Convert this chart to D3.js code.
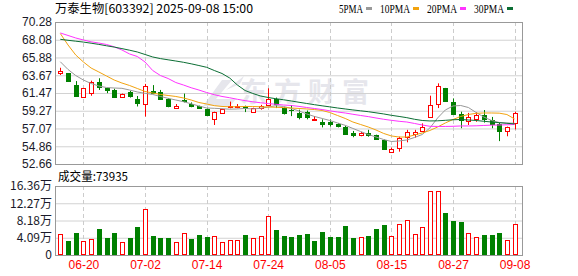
<!DOCTYPE html>
<html>
<head>
<meta charset="utf-8">
<script src="https://cdn.jsdelivr.net/npm/d3@7"></script>
<style>
  body { margin: 0; background: #fff; }
  svg { display: block; }
</style>
</head>
<body>
<div id="chart"></div>
<script>

// trading days shown (MM-DD)
var dates = ["06-17","06-18","06-19","06-20","06-23","06-24","06-25","06-26","06-27","06-30",
             "07-01","07-02","07-03","07-04","07-07","07-08","07-09","07-10","07-11","07-14",
             "07-15","07-16","07-17","07-18","07-21","07-22","07-23","07-24","07-25","07-28",
             "07-29","07-30","07-31","08-01","08-04","08-05","08-06","08-07","08-08","08-11",
             "08-12","08-13","08-14","08-15","08-18","08-19","08-20","08-21","08-22","08-25",
             "08-26","08-27","08-28","08-29","09-01","09-02","09-03","09-04","09-05","09-08"];

var openP  = [63.92,63.92,62.45,61.00,61.45,62.80,62.05,61.85,60.95,61.55,
              60.70,60.15,61.75,61.55,60.75,59.65,60.55,60.05,59.85,59.50,
              58.25,58.95,59.70,59.80,59.85,59.15,59.60,60.00,60.70,59.55,
              59.40,59.05,59.10,58.15,57.85,57.90,57.60,57.30,56.45,56.20,
              56.45,56.25,55.65,54.20,54.70,55.95,56.40,56.75,58.55,60.10,
              62.05,60.40,58.85,58.00,58.30,58.70,58.10,57.65,56.70,57.70];
var highP  = [64.60,63.95,62.95,62.10,63.00,63.30,62.10,62.00,61.40,61.75,
              61.10,62.60,62.45,61.85,60.85,60.10,61.40,60.30,59.90,59.55,
              59.15,59.50,60.40,60.10,59.90,59.65,60.00,62.05,60.90,59.70,
              59.98,59.40,59.30,58.60,58.20,58.20,57.75,57.40,56.76,56.65,
              56.90,56.30,55.70,54.70,56.05,56.90,56.90,57.70,61.14,62.67,
              62.10,60.80,59.15,59.00,59.10,59.36,58.50,57.80,57.30,59.15];
var lowP   = [63.70,62.90,61.00,60.90,61.13,61.85,61.45,60.90,60.90,60.90,
              59.80,58.55,61.40,60.60,59.70,59.55,60.30,59.70,59.55,58.70,
              57.50,58.90,59.57,59.57,59.10,59.10,59.40,59.86,59.60,58.80,
              58.60,58.20,58.20,58.00,57.20,57.30,57.20,56.30,55.98,56.10,
              56.05,55.65,54.40,54.10,54.19,55.35,55.93,56.67,58.40,59.60,
              60.45,58.80,57.10,57.50,57.90,57.80,57.10,55.50,56.10,56.95];
var closeP = [64.24,63.00,61.15,62.05,62.80,62.25,61.85,61.00,61.35,61.10,
              60.25,62.35,61.50,60.75,59.80,59.90,60.50,59.85,59.60,58.75,
              59.10,59.45,59.85,59.90,59.60,59.55,59.90,60.70,60.10,59.05,
              59.30,58.55,58.55,58.20,57.65,57.65,57.40,56.40,56.30,56.55,
              56.20,55.75,54.50,54.50,55.85,56.60,56.60,57.30,60.00,62.35,
              60.50,58.90,58.10,58.55,58.80,58.20,57.60,56.80,57.25,58.95];

// volume in 万手, and whether the bar is drawn red (up)
var volume = [4.98,3.32,5.29,3.32,3.72,6.16,4.03,5.29,3.08,4.03,
              6.71,10.9,4.50,4.03,4.03,3.08,5.20,3.79,4.74,4.27,
              4.50,3.08,3.56,3.56,4.74,3.95,4.50,9.25,5.93,4.50,
              4.34,4.74,4.98,3.40,5.53,4.34,4.34,6.95,4.03,4.27,
              4.58,6.24,7.11,4.50,7.35,8.30,4.98,6.64,15.2,15.2,
              9.90,8.14,7.90,5.29,4.27,4.74,4.74,5.29,3.56,7.39];
var volUp = [1,0,0,1,1,0,0,0,1,0,
             0,1,0,0,0,1,1,0,0,0,
             1,1,1,1,0,1,1,1,0,0,
             0,0,0,0,0,0,0,0,0,1,
             0,0,0,1,1,1,1,1,1,1,
             0,0,0,1,1,0,0,0,1,1];

// moving averages
var ma5  = [65.35,64.39,63.64,63.08,62.65,62.34,62.15,62.09,62.05,61.84,
            61.60,61.43,61.29,61.04,60.81,60.60,60.39,60.13,59.86,59.61,
            59.57,59.52,59.46,59.49,59.55,59.49,59.57,59.73,59.90,59.80,
            59.55,59.24,58.87,58.56,58.31,58.06,57.75,57.46,57.07,56.69,
            56.32,56.01,55.70,55.45,55.52,55.64,55.95,56.32,57.13,58.37,
            59.36,59.86,59.92,59.67,59.05,58.49,58.06,57.81,57.75,57.71];
var ma10 = [68.85,67.43,66.19,65.32,64.57,64.08,63.58,63.08,62.71,62.40,
            62.03,61.66,61.47,61.29,61.16,61.04,60.85,60.60,60.29,60.11,
            59.90,59.80,59.76,59.76,59.80,59.80,59.76,59.73,59.70,59.66,
            59.61,59.55,59.49,59.42,59.30,59.05,58.68,58.31,57.87,57.56,
            57.25,56.88,56.45,56.14,56.01,56.01,56.26,56.51,56.82,57.25,
            57.75,58.18,58.56,58.80,58.95,58.99,58.99,58.97,58.80,58.25];
var ma20 = [68.92,68.61,68.30,68.05,67.82,67.67,67.49,67.20,66.81,66.31,
            66.00,65.32,64.26,63.64,63.27,62.77,62.46,62.12,61.84,61.53,
            61.26,61.04,60.88,60.69,60.52,60.38,60.26,60.16,60.07,59.98,
            59.92,59.81,59.67,59.55,59.42,59.26,59.11,58.99,58.83,58.68,
            58.54,58.37,58.21,58.08,57.96,57.87,57.69,57.50,57.34,57.32,
            57.32,57.34,57.38,57.38,57.40,57.44,57.48,57.50,57.53,57.56];
var ma30 = [68.13,68.01,67.90,67.79,67.65,67.50,67.33,67.17,66.98,66.78,
            66.56,66.25,65.94,65.74,65.59,65.44,65.28,65.09,64.88,64.66,
            64.26,63.89,63.33,62.46,61.78,61.41,61.10,60.91,60.76,60.63,
            60.48,60.32,60.17,60.02,59.88,59.75,59.61,59.49,59.37,59.26,
            59.15,59.01,58.87,58.70,58.56,58.41,58.21,58.06,58.00,58.02,
            58.08,58.15,58.18,58.12,58.06,57.96,57.87,57.79,57.71,57.63];

var priceTicks = [70.28, 68.08, 65.88, 63.67, 61.47, 59.27, 57.07, 54.86, 52.66];
var volTicks = [0, 4.09, 8.18, 12.27, 16.36];
var dateTicks = ["06-20","07-02","07-14","07-24","08-05","08-15","08-27","09-08"];

var maNames = ["5PMA", "10PMA", "20PMA", "30PMA"];
var maColors = ["#999999", "#f2a30f", "#ff33ff", "#0b6e34"];
var maSeries = [ma5, ma10, ma20, ma30];

var titleText = "万泰生物[603392] 2025-09-08 15:00";
var volText = "成交量:73935";

var W = 578, H = 276;
var left = 55, right = 522;
var pTop = 22, pBottom = 164;
var vTop = 186, vBottom = 255;

var up = "#ff0000", down = "#008000";
var sans = "'Liberation Sans', Arial, sans-serif";
var cjk = "'Noto Sans CJK SC', 'Liberation Sans', sans-serif";

var svg = d3.select("#chart").append("svg")
    .attr("width", W)
    .attr("height", H);

var x = d3.scalePoint().domain(dates).range([60.3, 514.6]);
var y = d3.scaleLinear().domain([52.66, 70.28]).range([pBottom, pTop]);
var vy = d3.scaleLinear().domain([0, 16.36]).range([vBottom, vTop]);

// title and legend
svg.append("text")
    .attr("x", 55).attr("y", 13)
    .attr("font-family", cjk).attr("font-size", 12)
    .attr("textLength", 198).attr("lengthAdjust", "spacingAndGlyphs")
    .attr("fill", "#000")
    .text(titleText);

var lx = 339;
maNames.forEach(function (name, i) {
    var tw = name.length * 6;
    svg.append("text")
        .attr("x", lx).attr("y", 13)
        .attr("font-family", "'Liberation Serif', serif").attr("font-size", 12)
        .attr("textLength", tw).attr("lengthAdjust", "spacingAndGlyphs")
        .attr("fill", "#000")
        .text(name);
    svg.append("rect")
        .attr("x", lx + tw + 3).attr("y", 7)
        .attr("width", 6).attr("height", 3)
        .attr("fill", maColors[i]);
    lx += tw + 3 + 6 + 8;
});

// watermark
var wm = svg.append("g").attr("fill", "#e6e6ec");
wm.append("path").attr("d", "M203,106 L222,80 L232,80 L216,99 L236,99 L230,106 Z");
wm.append("path").attr("d", "M226,90 L244,76 L240,84 Z");
wm.append("text")
    .attr("x", 240).attr("y", 102)
    .attr("font-family", cjk).attr("font-size", 27).attr("font-weight", "bold")
    .attr("letter-spacing", 7)
    .text("东方财富");

// ---------- price panel ----------
var pGrid = svg.append("g")
    .attr("transform", "translate(" + left + ",0)")
    .call(d3.axisLeft(y).tickValues(priceTicks)
        .tickSize(-(right - left))
        .tickPadding(3)
        .tickFormat(function (d) { return d.toFixed(2); }));
pGrid.select(".domain").remove();
pGrid.selectAll("line").attr("stroke", "#d2d2d2");
pGrid.selectAll("text").attr("font-family", sans).attr("font-size", 12).attr("fill", "#1a1a2a");

svg.append("g").selectAll("line")
    .data(dateTicks).enter().append("line")
    .attr("x1", function (d) { return Math.round(x(d)) + 0.5; })
    .attr("x2", function (d) { return Math.round(x(d)) + 0.5; })
    .attr("y1", pTop).attr("y2", pBottom)
    .attr("stroke", "#cccccc").attr("stroke-dasharray", "4,3");

svg.append("rect")
    .attr("x", left + 0.5).attr("y", pTop + 0.5)
    .attr("width", right - left).attr("height", pBottom - pTop)
    .attr("fill", "none").attr("stroke", "#999");

var candles = dates.map(function (d, i) {
    return { date: d, o: openP[i], h: highP[i], l: lowP[i], c: closeP[i] };
});

var cg = svg.append("g");
cg.selectAll("line")
    .data(candles).enter().append("line")
    .attr("x1", function (d) { return Math.round(x(d.date)) + 0.5; })
    .attr("x2", function (d) { return Math.round(x(d.date)) + 0.5; })
    .attr("y1", function (d) { return y(d.h); })
    .attr("y2", function (d) { return y(d.l); })
    .attr("stroke", function (d) { return d.c >= d.o ? up : down; });

cg.selectAll("rect")
    .data(candles).enter().append("rect")
    .each(function (d) {
        var cx = Math.round(x(d.date));
        var top = Math.round(y(Math.max(d.o, d.c)));
        var bot = Math.round(y(Math.min(d.o, d.c)));
        var r = d3.select(this);
        if (d.c >= d.o) {
            r.attr("x", cx - 2 + 0.5).attr("y", top + 0.5)
                .attr("width", 4).attr("height", Math.max(1, bot - top))
                .attr("fill", "#fff").attr("stroke", up);
        } else {
            r.attr("x", cx - 2).attr("y", top)
                .attr("width", 5).attr("height", Math.max(1, bot - top + 1))
                .attr("fill", down);
        }
    });

var line = d3.line()
    .x(function (d, i) { return x(dates[i]); })
    .y(function (d) { return y(d); });

svg.append("g").selectAll("path")
    .data(maSeries).enter().append("path")
    .attr("d", line)
    .attr("fill", "none")
    .attr("stroke", function (d, i) { return maColors[i]; })
    .attr("stroke-width", 1);

// ---------- volume panel ----------
svg.append("text")
    .attr("x", 58).attr("y", 181)
    .attr("font-family", cjk).attr("font-size", 12)
    .attr("textLength", 70).attr("lengthAdjust", "spacingAndGlyphs")
    .attr("fill", "#000")
    .text(volText);

var vGrid = svg.append("g")
    .attr("transform", "translate(" + left + ",0)")
    .call(d3.axisLeft(vy).tickValues(volTicks)
        .tickSize(-(right - left))
        .tickPadding(3)
        .tickFormat(function (d) { return d === 0 ? "0" : d.toFixed(2) + "万"; }));
vGrid.select(".domain").remove();
vGrid.selectAll("line").attr("stroke", "#d2d2d2");
vGrid.selectAll("text").attr("font-family", cjk).attr("font-size", 12).attr("fill", "#1a1a2a");

svg.append("g").selectAll("line")
    .data(dateTicks).enter().append("line")
    .attr("x1", function (d) { return Math.round(x(d)) + 0.5; })
    .attr("x2", function (d) { return Math.round(x(d)) + 0.5; })
    .attr("y1", vTop).attr("y2", vBottom)
    .attr("stroke", "#cccccc").attr("stroke-dasharray", "4,3");

svg.append("rect")
    .attr("x", left + 0.5).attr("y", vTop + 0.5)
    .attr("width", right - left).attr("height", vBottom - vTop)
    .attr("fill", "none").attr("stroke", "#999");

svg.append("g").selectAll("rect")
    .data(volume).enter().append("rect")
    .each(function (v, i) {
        var cx = Math.round(x(dates[i]));
        var top = Math.round(vy(v));
        var r = d3.select(this);
        if (volUp[i]) {
            r.attr("x", cx - 2 + 0.5).attr("y", top + 0.5)
                .attr("width", 4).attr("height", vBottom - top - 1)
                .attr("fill", "#fff").attr("stroke", up);
        } else {
            r.attr("x", cx - 2).attr("y", top)
                .attr("width", 5).attr("height", vBottom - top)
                .attr("fill", down);
        }
    });

// date axis
var xAxis = svg.append("g")
    .attr("transform", "translate(0," + vBottom + ")")
    .call(d3.axisBottom(x).tickValues(dateTicks).tickSize(0).tickPadding(5));
xAxis.select(".domain").remove();
xAxis.selectAll("text")
    .attr("font-family", sans).attr("font-size", 12).attr("fill", "#ff0000");

</script>
</body>
</html>
